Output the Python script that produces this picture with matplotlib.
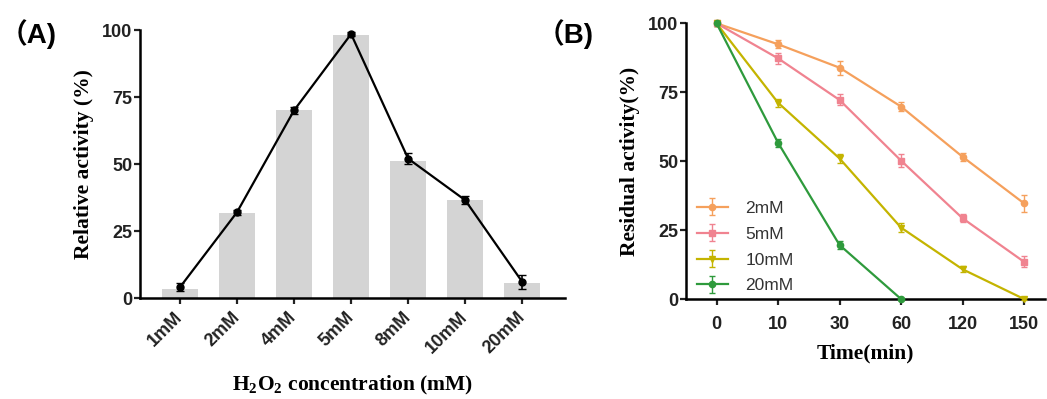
import matplotlib
matplotlib.use("Agg")
import matplotlib.pyplot as plt
import numpy as np

plt.rcParams["mathtext.fontset"] = "custom"
plt.rcParams["mathtext.rm"] = "Liberation Serif:bold"
plt.rcParams["mathtext.bf"] = "Liberation Serif:bold"

# panel A data
conc_labels = ["1mM", "2mM", "4mM", "5mM", "8mM", "10mM", "20mM"]
bar_vals = [3.4, 31.7, 70.0, 98.0, 51.0, 36.5, 5.6]
line_vals = [4.0, 32.0, 70.0, 98.5, 52.0, 36.5, 6.0]
line_err = [1.5, 1.0, 1.2, 0.8, 2.0, 1.5, 2.5]

# panel B data
time_labels = ["0", "10", "30", "60", "120", "150"]
res_2mM = [100, 92.4, 83.9, 69.8, 51.6, 34.7]
res_5mM = [100, 87.3, 72.2, 50.2, 29.3, 13.5]
res_10mM = [100, 71.2, 51.0, 25.9, 10.8, 0.0]
res_20mM = [100, 56.7, 19.6, 0.0]
err_2mM = [1.0, 1.5, 2.5, 1.5, 1.5, 3.0]
err_5mM = [1.0, 2.0, 2.0, 2.5, 1.5, 2.0]
err_10mM = [1.0, 1.5, 1.5, 1.5, 1.0, 0.5]
err_20mM = [1.0, 1.5, 1.5, 0.5]

tick_font = dict(family="Liberation Sans", weight="bold", size=13)
label_font = dict(family="Liberation Serif", weight="bold", size=15.5)
panel_font = dict(family=["Liberation Sans", "Noto Sans CJK SC"], weight="bold", size=20)

fig = plt.figure(figsize=(10.47, 3.99), dpi=100)

def style_axis(ax):
    for s in ["top", "right"]:
        ax.spines[s].set_visible(False)
    for s in ["left", "bottom"]:
        ax.spines[s].set_linewidth(1.8)
    ax.tick_params(width=1.6, length=4, direction="out", colors="#222222")
    ax.tick_params(axis="y", pad=1.5)
    ax.set_ylim(0, 100)
    ax.set_yticks([0, 25, 50, 75, 100])
    for t in ax.get_yticklabels():
        t.set_fontproperties(matplotlib.font_manager.FontProperties(**tick_font))

# ---- (A)
axA = fig.add_axes([0.1337, 0.2531, 0.406, 0.6717])
x = np.arange(len(conc_labels))
axA.bar(x, bar_vals, width=0.63, color="#d4d4d4", zorder=1)
axA.errorbar(x, line_vals, yerr=line_err, color="black", lw=1.6, marker="o",
             ms=5, capsize=3, elinewidth=1.2, zorder=3, clip_on=False)
axA.set_xlim(-0.70, 6.75)
style_axis(axA)
axA.set_xticks(x)
axA.set_xticklabels(conc_labels, rotation=45, ha="right", va="center",
                    rotation_mode="anchor", **tick_font)
axA.tick_params(axis="x", pad=8)
axA.set_ylabel("Relative activity (%)", labelpad=6, **label_font)
axA.set_xlabel(r"H$_2$O$_2$ concentration (mM)", labelpad=12, **label_font)
fig.text(0.0, 0.915, "（A)", va="center", **panel_font)

# ---- (B)
axB = fig.add_axes([0.655, 0.2506, 0.343, 0.691])
xt = np.arange(len(time_labels))
series = [
    ("2mM", res_2mM, err_2mM, "#f5a05c", "o"),
    ("5mM", res_5mM, err_5mM, "#f08390", "s"),
    ("10mM", res_10mM, err_10mM, "#c4b400", "v"),
    ("20mM", res_20mM, err_20mM, "#2e9a3c", "o"),
]
for name, vals, err, col, mk in series:
    xs = xt[:len(vals)]
    axB.errorbar(xs, vals, yerr=err, color=col, lw=1.6, marker=mk, ms=4.5,
                 capsize=2.5, elinewidth=1.0, label=name, clip_on=False, zorder=3)
axB.set_xlim(-0.50, 5.34)
style_axis(axB)
axB.set_xticks(xt)
axB.set_xticklabels(time_labels, **tick_font)
axB.tick_params(axis="x", pad=8)
axB.set_ylabel("Residual activity(%)", labelpad=6, **label_font)
axB.set_xlabel("Time(min)", labelpad=8, **label_font)
leg = axB.legend(loc="lower left", bbox_to_anchor=(0.03, 0.02), frameon=False,
                 prop=dict(family="Liberation Sans", size=12.5), handlelength=1.8,
                 labelspacing=0.62, handletextpad=1.0, borderpad=0,
                 borderaxespad=0)
for t in leg.get_texts():
    t.set_color("#333333")
fig.text(0.513, 0.915, "（B)", va="center", **panel_font)

fig.savefig("out.png", dpi=100)
